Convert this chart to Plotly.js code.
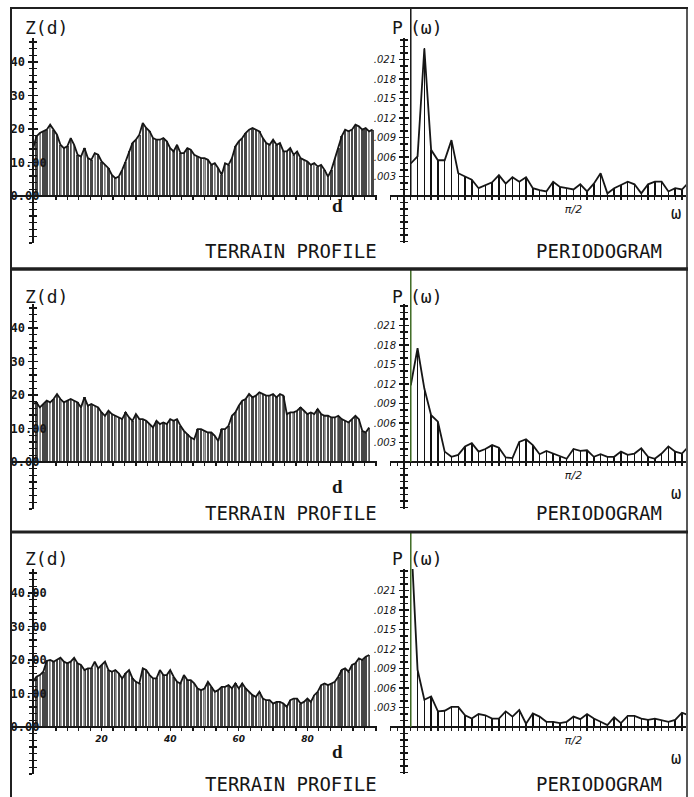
<!DOCTYPE html>
<html><head><meta charset="utf-8">
<script src="https://cdn.plot.ly/plotly-3.0.1.min.js"></script>
<style>html,body{margin:0;padding:0;background:#fff}#chart{width:694px;height:797px}</style>
</head><body><div id="chart"></div>
<script>
// ---- data: terrain profiles Z(d), d = 0,1,2,...
const profileTop = [14.0,17.8,18.8,19.3,19.8,21.3,19.8,18.3,15.3,14.3,
 14.8,17.3,15.3,12.3,11.8,14.3,11.3,10.8,12.8,12.3,
 10.3,9.3,8.3,6.3,5.3,5.8,7.8,10.3,13.3,15.8,
 16.8,18.3,21.8,20.3,19.3,17.3,16.8,16.8,17.3,16.3,
 14.3,13.3,15.3,12.8,12.8,14.3,13.8,12.3,11.8,11.3,
 11.3,10.8,9.3,9.8,8.3,6.3,9.8,9.3,11.3,14.8,
 16.3,17.3,18.8,19.8,20.3,19.8,19.3,17.3,15.8,15.3,
 16.8,15.3,15.8,13.3,13.3,14.3,12.3,13.3,11.3,10.8,
 10.3,9.3,9.8,8.8,9.3,7.8,5.8,7.8,11.3,14.3,
 17.8,19.8,19.3,19.8,21.3,20.8,19.8,20.3,19.3,19.8];
const profileMid = [17.3,17.8,16.3,17.3,18.3,17.8,18.8,20.3,18.8,
 17.8,18.3,18.8,18.3,17.8,16.3,19.3,16.8,17.3,16.8,
 16.3,14.8,13.8,15.3,14.3,13.8,13.3,12.8,14.8,13.3,
 12.3,14.3,12.8,12.8,12.3,11.3,10.3,12.3,11.3,11.8,
 11.3,12.8,12.3,12.8,10.8,9.3,8.3,7.3,6.8,9.8,
 9.8,9.3,8.8,8.8,7.8,6.3,9.8,9.8,10.8,
 13.8,14.8,16.8,18.3,18.8,20.3,19.3,19.8,20.8,20.3,
 19.8,19.8,20.3,19.3,20.3,19.8,14.3,14.8,14.8,15.3,
 16.3,15.3,14.3,14.8,14.3,15.8,14.3,13.8,13.8,
 13.3,13.3,13.8,12.8,12.3,11.8,12.8,13.8,12.8,9.3,
 8.8,10.3];
const profileBot = [13.5,15.0,15.5,16.5,19.7,20.0,19.5,20.0,20.7,
 19.5,19.0,19.5,20.7,19.0,18.5,17.0,17.5,17.5,19.5,
 17.5,18.5,19.5,17.0,16.5,17.0,16.0,14.5,16.0,17.0,
 14.5,13.5,13.0,17.5,17.0,15.5,14.5,14.5,17.0,15.5,
 15.5,17.0,15.0,13.5,13.0,15.5,14.0,14.0,13.0,11.5,
 11.0,11.5,13.5,12.0,10.5,11.0,12.0,12.0,12.5,
 11.5,13.0,11.5,13.0,11.5,10.5,9.5,9.0,10.5,8.5,
 8.0,8.0,7.0,7.5,7.5,7.0,6.0,8.0,8.5,8.5,
 7.0,7.5,8.5,7.5,9.5,10.5,12.5,13.0,12.5,
 13.0,13.5,15.0,17.0,17.5,16.5,18.5,19.0,20.5,20.0,
 21.0,21.5];

// ---- data: periodograms P(w) at w = k*pi/50, k = 1..42
const periodTop = [0.0050,0.0061,0.0227,0.0071,0.0055,0.0055,0.0086,0.0035,0.0030,0.0025,
 0.0012,0.0017,0.0021,0.0032,0.0019,0.0029,0.0022,0.0029,0.0012,0.0009,
 0.0007,0.0022,0.0014,0.0012,0.0010,0.0018,0.0007,0.0019,0.0035,0.0004,
 0.0012,0.0017,0.0022,0.0018,0.0004,0.0018,0.0022,0.0022,0.0007,0.0012,
 0.0010,0.0021];
const periodMid = [0.0118,0.0175,0.0113,0.0072,0.0062,0.0016,0.0008,0.0011,0.0024,0.0029,
 0.0016,0.0020,0.0026,0.0022,0.0007,0.0006,0.0031,0.0035,0.0026,0.0012,
 0.0017,0.0013,0.0008,0.0005,0.0020,0.0017,0.0018,0.0008,0.0012,0.0008,
 0.0008,0.0016,0.0011,0.0013,0.0021,0.0008,0.0005,0.0013,0.0024,0.0016,
 0.0013,0.0024];
const periodBot = [0.0300,0.0088,0.0042,0.0047,0.0024,0.0025,0.0031,0.0031,0.0018,0.0013,
 0.0020,0.0018,0.0013,0.0013,0.0024,0.0016,0.0026,0.0005,0.0021,0.0016,
 0.0008,0.0008,0.0006,0.0008,0.0016,0.0012,0.0020,0.0013,0.0008,0.0003,
 0.0015,0.0006,0.0017,0.0017,0.0013,0.0011,0.0013,0.0011,0.0008,0.0011,
 0.0022,0.0018];
const freqIndex = [1,2,3,4,5,6,7,8,9,10,11,12,13,14,15,16,17,18,19,20,21,
 22,23,24,25,26,27,28,29,30,31,32,33,34,35,36,37,38,39,40,41,42];

// ---- tick labels
const zTickVals = [0,10,20,30,40];
const zTickTextShort = ['0.00','10.00','20','30','40'];
const zTickTextFull = ['0.00','10.00','20.00','30.00','40.00'];
const dTickVals = [20,40,60,80];
const dTickText = ['20','40','60','80'];
const pTickVals = [0.003,0.006,0.009,0.012,0.015,0.018,0.021];
const pTickText = ['.003','.006','.009','.012','.015','.018','.021'];
const wTickVals = [Math.PI/2];
const wTickText = ['π/2'];

const profiles = [profileTop, profileMid, profileBot];
const periods = [periodTop, periodMid, periodBot];
const omega = freqIndex.map(k => k*Math.PI/50);

// ---- geometry (pixels)
const W = 694, H = 797;
const rowBase = [196, 462, 727];
const frameTop = [8, 270, 533];
const above = 158, below = 47;
const xL0 = 12, xL1 = 377, zeroL = 33, scaleL = 3.43, zScale = 3.35;
const xR0 = 390, xR1 = 686, zeroR = 404, scaleR = 107.9, pScale = 6500;
const px = v => v / W, py = v => 1 - v / H;
const ink = '#161616';
const mono = 'DejaVu Sans Mono, monospace';

const data = [];
const layout = {
  width: W, height: H, margin: {l:0, r:0, t:0, b:0},
  paper_bgcolor: '#fff', plot_bgcolor: 'rgba(0,0,0,0)',
  showlegend: false, bargap: 0,
  shapes: [], annotations: []
};
const axKey = (a, n) => n === 1 ? a + 'axis' : a + 'axis' + n;
const axRef = (a, n) => n === 1 ? a : a + n;

for (let r = 0; r < 3; r++) {
  const base = rowBase[r];
  const yDom = [py(base + below), py(base - above)];
  const nL = 2*r + 1, nR = 2*r + 2;
  const nLi = 6 + nL, nRi = 6 + nR;
  const common = {showgrid:false, zeroline:false, fixedrange:true, linecolor:ink, tickcolor:ink};

  // left x
  layout[axKey('x', nL)] = Object.assign({}, common, {
    domain: [px(xL0), px(xL1)],
    range: [(xL0 - zeroL)/scaleL, (xL1 - zeroL)/scaleL],
    anchor: 'free', position: py(base),
    showline: true, linewidth: 2,
    ticks: 'outside', ticklen: 3, tickwidth: 1.3,
    tickmode: 'array', tickvals: dTickVals, ticktext: dTickText,
    showticklabels: r === 2,
    tickfont: {family: 'DejaVu Sans', size: 9, color: ink, style: 'italic', weight: 'bold'},
    minor: {tick0: 0, dtick: 10/3, ticks: 'outside', ticklen: 3, tickcolor: ink, tickwidth: 1.3}
  });
  // left y
  const yL = Object.assign({}, common, {
    domain: yDom,
    range: [-below/zScale, above/zScale],
    anchor: 'free', position: px(zeroL),
    showline: true, linewidth: 2,
    ticks: 'outside', ticklen: 4, tickwidth: 1.4,
    tickmode: 'array', tickvals: zTickVals,
    ticktext: r === 2 ? zTickTextFull : zTickTextShort,
    ticklabelposition: 'inside', ticklabelstandoff: -24,
    tickfont: {family: mono, size: 12, color: ink, weight: 'bold'},
    minor: {tick0: 0, dtick: 2, ticks: 'outside', ticklen: 3, tickcolor: ink, tickwidth: 1.3}
  });
  layout[axKey('y', nL)] = yL;
  layout[axKey('y', nLi)] = Object.assign({}, yL, {
    showline: false, ticks: 'inside', showticklabels: false,
    minor: {tick0: 0, dtick: 2, ticks: 'inside', ticklen: 3, tickcolor: ink, tickwidth: 1.3}
  });

  // right x
  layout[axKey('x', nR)] = Object.assign({}, common, {
    domain: [px(xR0), px(xR1)],
    range: [(xR0 - zeroR)/scaleR, (xR1 - zeroR)/scaleR],
    anchor: 'free', position: py(base),
    showline: true, linewidth: 2,
    ticks: 'outside', ticklen: 3, tickwidth: 1.3,
    tickmode: 'array', tickvals: wTickVals, ticktext: wTickText,
    tickfont: {family: 'DejaVu Sans', size: 11, color: ink, style: 'italic'},
    minor: {tick0: 0, dtick: Math.PI/50, ticks: 'outside', ticklen: 3, tickcolor: ink, tickwidth: 1.3}
  });
  // right y
  const yR = Object.assign({}, common, {
    domain: yDom,
    range: [-below/pScale, above/pScale],
    anchor: 'free', position: px(zeroR),
    showline: true, linewidth: 2,
    ticks: 'outside', ticklen: 4, tickwidth: 1.4,
    tickmode: 'array', tickvals: pTickVals, ticktext: pTickText,
    ticklabelstandoff: 1,
    tickfont: {family: 'DejaVu Sans', size: 10, color: ink, style: 'italic'},
    minor: {tick0: 0, dtick: 0.001, ticks: 'outside', ticklen: 3, tickcolor: ink, tickwidth: 1.3}
  });
  layout[axKey('y', nR)] = yR;
  layout[axKey('y', nRi)] = Object.assign({}, yR, {
    showline: false, ticks: 'inside', showticklabels: false,
    minor: {tick0: 0, dtick: 0.001, ticks: 'inside', ticklen: 3, tickcolor: ink, tickwidth: 1.3}
  });

  // ---- traces: terrain profile (hatched area)
  const z = profiles[r];
  const d = z.map((_, i) => i);
  data.push({type:'bar', x:d, y:z, width:0.72, marker:{color:'#474747', line:{width:0}},
    xaxis: axRef('x', nL), yaxis: axRef('y', nL), hoverinfo:'skip'});
  data.push({type:'scatter', mode:'lines', x:d, y:z, line:{color:ink, width:1.8},
    fill:'tozeroy', fillcolor:'rgba(0,0,0,0)',
    fillpattern:{shape:'|', fgcolor:'#ffffff', bgcolor:'rgba(0,0,0,0)', size:11, solidity:0.2, fillmode:'overlay'},
    xaxis: axRef('x', nL), yaxis: axRef('y', nL), hoverinfo:'skip'});
  data.push({type:'scatter', mode:'markers', x:[0], y:[0], marker:{opacity:0},
    xaxis: axRef('x', nL), yaxis: axRef('y', nLi), hoverinfo:'skip'});

  // ---- traces: periodogram (stems + line)
  const p = periods[r];
  data.push({type:'bar', x:omega, y:p, width:0.013, marker:{color:'#111', line:{width:0}},
    xaxis: axRef('x', nR), yaxis: axRef('y', nR), hoverinfo:'skip'});
  data.push({type:'scatter', mode:'lines', x:omega, y:p, line:{color:ink, width:1.8},
    xaxis: axRef('x', nR), yaxis: axRef('y', nR), hoverinfo:'skip'});
  data.push({type:'scatter', mode:'markers', x:[0], y:[0], marker:{opacity:0},
    xaxis: axRef('x', nR), yaxis: axRef('y', nRi), hoverinfo:'skip'});

  // lead stem at first frequency, running up to the frame
  layout.shapes.push({type:'line', xref: axRef('x', nR), yref:'paper',
    x0: omega[0], x1: omega[0], y0: py(base), y1: py(frameTop[r]),
    line:{color: r === 0 ? ink : '#3f6b24', width: 1.5}});

  // ---- labels
  const dY = [206, 486, 751][r];
  const termY = [251, 513, 784][r];
  const headY = [28, 296, 558][r];
  const ann = (x, y, text, size, fam, extra) => layout.annotations.push(Object.assign({
    xref:'paper', yref:'paper', x: px(x), y: py(y), text, showarrow:false,
    xanchor:'center', yanchor:'middle', font:{family: fam, size, color: ink}}, extra || {}));
  ann(47, headY, 'Z(d)', 18, mono);
  ann(398, headY, 'P', 18, mono);
  ann(426, headY, '(ω)', 18, mono);
  ann(337, dY, 'd', 18, 'Liberation Serif', {font:{family:'Liberation Serif', size:19, color:ink, weight:'bold'}});
  ann(676, dY + 7, 'ω', 17, mono);
  ann(291, termY, 'TERRAIN PROFILE', 19, mono);
  ann(599, termY, 'PERIODOGRAM', 19, mono);
}

// ---- frame
const frameLine = (x0, y0, x1, y1, w) => layout.shapes.push({type:'line', xref:'paper', yref:'paper',
  x0: px(x0), y0: py(y0), x1: px(x1), y1: py(y1), line:{color:'#202020', width:w}});
frameLine(10, 8, 688, 8, 2);
frameLine(11, 8, 11, 797, 2);
frameLine(687, 8, 687, 797, 1.5);
frameLine(10, 269, 688, 269, 3.5);
frameLine(10, 532, 688, 532, 3);

Plotly.newPlot('chart', data, layout, {displayModeBar:false, staticPlot:true});
</script>
</body></html>
